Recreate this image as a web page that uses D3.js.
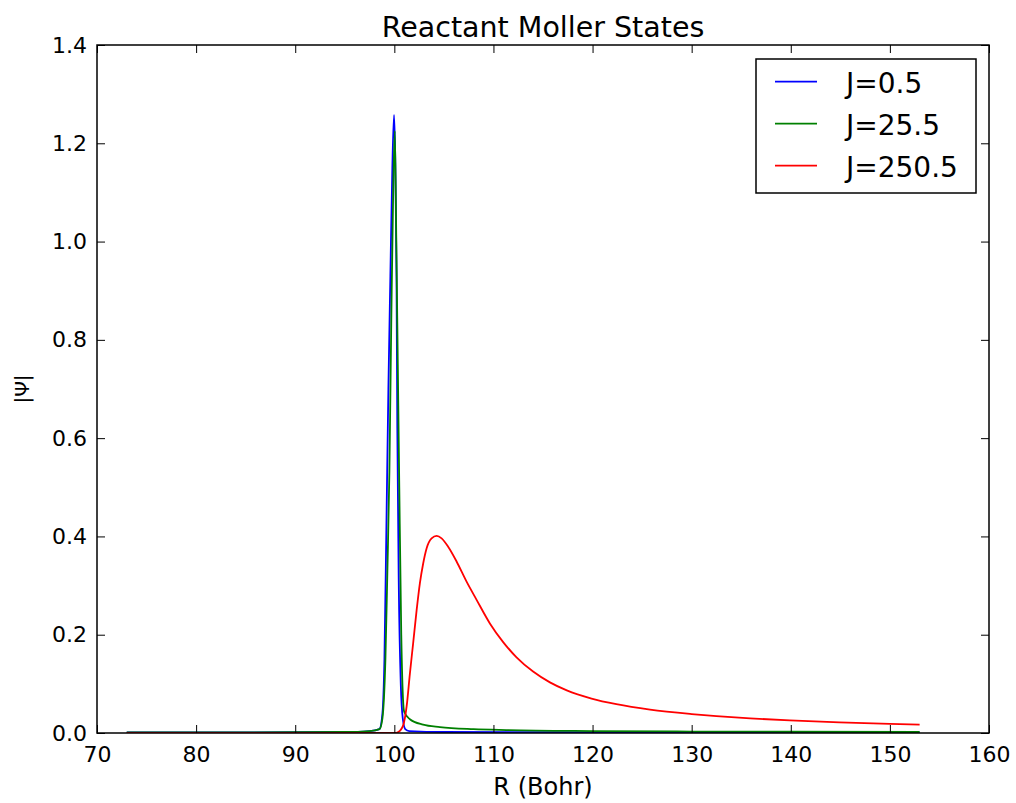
<!DOCTYPE html>
<html>
<head>
<meta charset="utf-8">
<script src="https://cdn.jsdelivr.net/npm/d3@7"></script>
<style>
  body { margin: 0; background: #fff; }
  svg { display: block; font-family: "DejaVu Sans", sans-serif; }
</style>
</head>
<body>
<svg id="chart" width="1016" height="803"></svg>
<script>
// ---- data ----
const xTicks = [70, 80, 90, 100, 110, 120, 130, 140, 150, 160];
const yTicks = [0.0, 0.2, 0.4, 0.6, 0.8, 1.0, 1.2, 1.4];
const seriesNames = ["J=0.5", "J=25.5", "J=250.5"];

const blueR = [73, 85, 95, 97.5, 98.5, 98.8, 99.0, 99.2, 99.4, 99.6, 99.8, 99.97, 100.1, 100.22, 100.3, 100.45, 100.65, 100.85, 101.1, 101.5, 105, 153];
const blueV = [0.001, 0.001, 0.002, 0.004, 0.008, 0.04, 0.15, 0.42, 0.70, 0.93, 1.15, 1.258, 1.16, 0.93, 0.62, 0.30, 0.10, 0.03, 0.008, 0.004, 0.002, 0.001];

const greenR = [73, 95, 97.5, 98.5, 98.8, 99.1, 99.3, 99.5, 99.7, 99.9, 100.05, 100.2, 100.35, 100.5, 100.7, 100.9, 101.0, 101.57, 102.9, 104.6, 108, 111.3, 120, 130, 140, 153];
const greenV = [0.001, 0.002, 0.004, 0.008, 0.03, 0.15, 0.33, 0.53, 0.85, 1.12, 1.225, 1.0, 0.75, 0.5, 0.2, 0.06, 0.043, 0.028, 0.017, 0.012, 0.0078, 0.006, 0.004, 0.003, 0.0025, 0.002];

const redR = [73, 95, 100.0, 100.4, 100.9, 101.24, 101.57, 101.9, 102.25, 102.58, 102.91, 103.26, 103.76, 104.27, 104.77, 105.43, 106.28, 107.29, 108.3, 109.64, 110.98, 112.33, 114.0, 115.7, 117.4, 119.9, 122.4, 125.8, 130.0, 132.5, 135.9, 139.9, 144.9, 150.0, 153.0];
const redV = [0.0, 0.0, 0.0, 0.002, 0.016, 0.054, 0.121, 0.183, 0.25, 0.305, 0.345, 0.376, 0.396, 0.401, 0.396, 0.379, 0.349, 0.308, 0.271, 0.223, 0.185, 0.154, 0.125, 0.103, 0.0867, 0.0701, 0.0586, 0.0475, 0.0385, 0.0343, 0.0297, 0.0255, 0.0215, 0.0184, 0.0169];

const colors = ["#0000ff", "#008000", "#ff0000"];

// ---- layout ----
const margin = { left: 97, right: 1016 - 989, top: 45, bottom: 803 - 733 };
const W = 1016, H = 803;
const svg = d3.select("#chart");
const x = d3.scaleLinear().domain([70, 160]).range([margin.left, W - margin.right]);
const y = d3.scaleLinear().domain([0, 1.4]).range([H - margin.bottom, margin.top]);

const series = [
  { name: seriesNames[0], r: blueR, v: blueV, color: colors[0] },
  { name: seriesNames[1], r: greenR, v: greenV, color: colors[1] },
  { name: seriesNames[2], r: redR, v: redV, color: colors[2] }
];

const clipId = "plotclip";
svg.append("clipPath").attr("id", clipId).append("rect")
  .attr("x", x(70)).attr("y", y(1.4)).attr("width", x(160) - x(70)).attr("height", y(0) - y(1.4));

const line = d3.line().x(d => x(d[0])).y(d => y(d[1])).curve(d3.curveMonotoneX);
const g = svg.append("g").attr("clip-path", `url(#${clipId})`);
series.forEach(s => {
  const pts = s.r.map((r, i) => [r, s.v[i]]);
  g.append("path").datum(pts).attr("d", line)
    .attr("fill", "none").attr("stroke", s.color).attr("stroke-width", 1.8)
    .attr("stroke-linejoin", "round");
});

// ---- axes (ticks inside, on all four sides) ----
const tickLen = 8;
const fmtY = d3.format(".1f");
const axB = svg.append("g").attr("transform", `translate(0,${y(0)})`)
  .call(d3.axisBottom(x).tickValues(xTicks).tickSize(-tickLen).tickPadding(13).tickFormat(d3.format("d")));
const axT = svg.append("g").attr("transform", `translate(0,${y(1.4)})`)
  .call(d3.axisTop(x).tickValues(xTicks).tickSize(-tickLen).tickFormat(""));
const axL = svg.append("g").attr("transform", `translate(${x(70)},0)`)
  .call(d3.axisLeft(y).tickValues(yTicks).tickSize(-tickLen).tickPadding(10).tickFormat(fmtY));
const axR = svg.append("g").attr("transform", `translate(${x(160)},0)`)
  .call(d3.axisRight(y).tickValues(yTicks).tickSize(-tickLen).tickFormat(""));
[axB, axT, axL, axR].forEach(a => {
  a.select(".domain").remove();
  a.selectAll(".tick line").attr("stroke", "#000").attr("stroke-width", 1);
  a.selectAll(".tick text").attr("fill", "#000").attr("font-size", 22)
    .attr("font-family", "DejaVu Sans, sans-serif");
});

// frame
svg.append("rect")
  .attr("x", x(70)).attr("y", y(1.4))
  .attr("width", x(160) - x(70)).attr("height", y(0) - y(1.4))
  .attr("fill", "none").attr("stroke", "#000").attr("stroke-width", 1.5);

// title & labels
svg.append("text").attr("x", (x(70) + x(160)) / 2).attr("y", 37)
  .attr("text-anchor", "middle").attr("font-size", 28.5).text("Reactant Moller States");
svg.append("text").attr("x", (x(70) + x(160)) / 2).attr("y", 795)
  .attr("text-anchor", "middle").attr("font-size", 24).text("R (Bohr)");
svg.append("text").attr("transform", `translate(29,${(y(0) + y(1.4)) / 2}) rotate(-90)`)
  .attr("text-anchor", "middle").attr("font-size", 20).text("|Ψ|");

// legend
const lg = svg.append("g");
lg.append("rect").attr("x", 756).attr("y", 59).attr("width", 220).attr("height", 134)
  .attr("fill", "#fff").attr("stroke", "#000").attr("stroke-width", 1.5);
series.forEach((s, i) => {
  const yy = 81.7 + i * 42;
  lg.append("line").attr("x1", 775).attr("x2", 817).attr("y1", yy).attr("y2", yy)
    .attr("stroke", s.color).attr("stroke-width", 1.8);
  lg.append("text").attr("x", 846).attr("y", yy + 11.5)
    .attr("font-size", 28).text(s.name);
});
</script>
</body>
</html>
